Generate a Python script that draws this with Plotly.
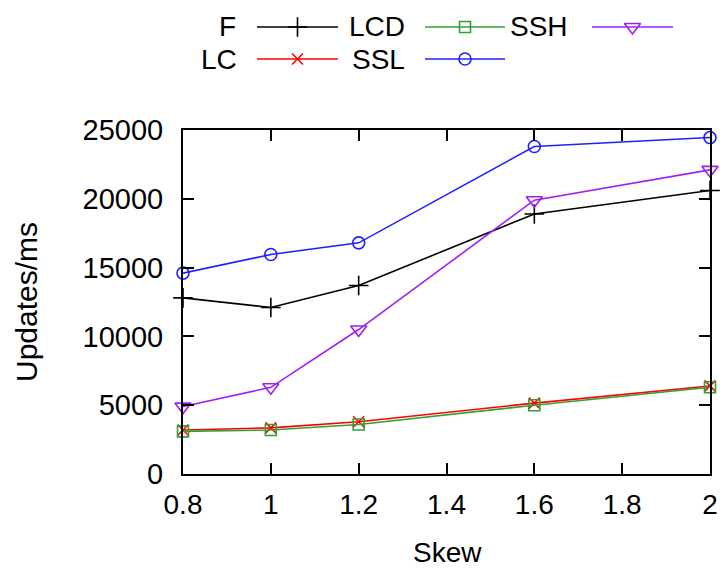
import plotly.graph_objects as go

skew = [0.8, 1.0, 1.2, 1.6, 2.0]
F = [12800, 12100, 13700, 18900, 20600]
LC = [3200, 3350, 3800, 5150, 6400]
LCD = [3100, 3200, 3600, 5000, 6300]
SSL = [14600, 15950, 16800, 23800, 24450]
SSH = [4900, 6300, 10500, 19900, 22100]

series = [
    ("F", F, "#000000", "cross-thin-open", 14),
    ("LC", LC, "#ff0000", "x-thin-open", 11),
    ("LCD", LCD, "#33a033", "square-open", 11),
    ("SSL", SSL, "#2020ff", "circle-open", 12),
    ("SSH", SSH, "#a020f0", "triangle-down-open", 14),
]

FONT = "Liberation Sans, Arial, sans-serif"
W, H = 720, 568
L, R, T, B = 183, 10, 130, 94

def px(x):
    return x / W

def py(y):
    return 1 - y / H

fig = go.Figure()
for name, ys, col, sym, sz in series:
    fig.add_trace(go.Scatter(
        x=skew, y=ys, mode="lines+markers", name=name,
        line=dict(color=col, width=1.6),
        marker=dict(symbol=sym, size=sz, color=col, line=dict(color=col, width=1.6)),
        showlegend=False, cliponaxis=False,
    ))

# Legend (gnuplot style: label then sample)
legend_pos = {
    "F": (238, 257, 338, 27),
    "LC": (239, 257, 338, 59),
    "LCD": (407, 425, 505, 27),
    "SSL": (407, 425, 505, 59),
    "SSH": (570, 592, 673, 27),
}
for name, ys, col, sym, sz in series:
    tx, x0, x1, yp = legend_pos[name]
    fig.add_annotation(x=px(tx), y=py(yp), xref="paper", yref="paper",
                       xanchor="right", yanchor="middle", text=name, showarrow=False,
                       font=dict(family=FONT, size=28, color="black"))
    fig.add_trace(go.Scatter(
        x=[x0, x1], y=[yp, yp], xaxis="x2", yaxis="y2", mode="lines",
        line=dict(color=col, width=1.6), showlegend=False, hoverinfo="skip"))
    fig.add_trace(go.Scatter(
        x=[(x0 + x1) / 2], y=[yp], xaxis="x2", yaxis="y2", mode="markers",
        marker=dict(symbol=sym, size=sz, color=col, line=dict(color=col, width=1.6)),
        showlegend=False, hoverinfo="skip", cliponaxis=False))

# Axis titles
fig.add_annotation(x=px(447), y=py(552), xref="paper", yref="paper",
                   xanchor="center", yanchor="middle", text="Skew", showarrow=False,
                   font=dict(family=FONT, size=28, color="black"))
fig.add_annotation(x=px(26), y=py(302), xref="paper", yref="paper",
                   xanchor="center", yanchor="middle", text="Updates/ms", showarrow=False,
                   textangle=-90, font=dict(family=FONT, size=30, color="black"))

fig.update_layout(
    width=W, height=H,
    margin=dict(l=0, r=0, t=0, b=0),
    paper_bgcolor="white", plot_bgcolor="rgba(0,0,0,0)",
    font=dict(family=FONT, size=28, color="black"),
    xaxis=dict(domain=[L / W, (W - R) / W], anchor="y",
               range=[0.8, 2.0], tickmode="linear", tick0=0.8, dtick=0.2,
               ticks="inside", ticklen=11, tickwidth=2, tickcolor="black",
               showline=True, linewidth=2, linecolor="black", mirror="ticks",
               showgrid=False, zeroline=False, automargin=False,
               tickfont=dict(size=28), ticklabelstandoff=4),
    yaxis=dict(domain=[B / H, (H - T) / H], anchor="x",
               range=[0, 25000], tickmode="linear", tick0=0, dtick=5000,
               tickformat="d",
               ticks="inside", ticklen=11, tickwidth=2, tickcolor="black",
               showline=True, linewidth=2, linecolor="black", mirror="ticks",
               showgrid=False, zeroline=False, automargin=False,
               tickfont=dict(size=29), ticklabelstandoff=12),
    xaxis2=dict(domain=[0, 1], range=[0, W], visible=False,
                anchor="y2", fixedrange=True),
    yaxis2=dict(domain=[0, 1], range=[H, 0], visible=False, anchor="x2",
                fixedrange=True),
)
fig.write_html("out.html")
